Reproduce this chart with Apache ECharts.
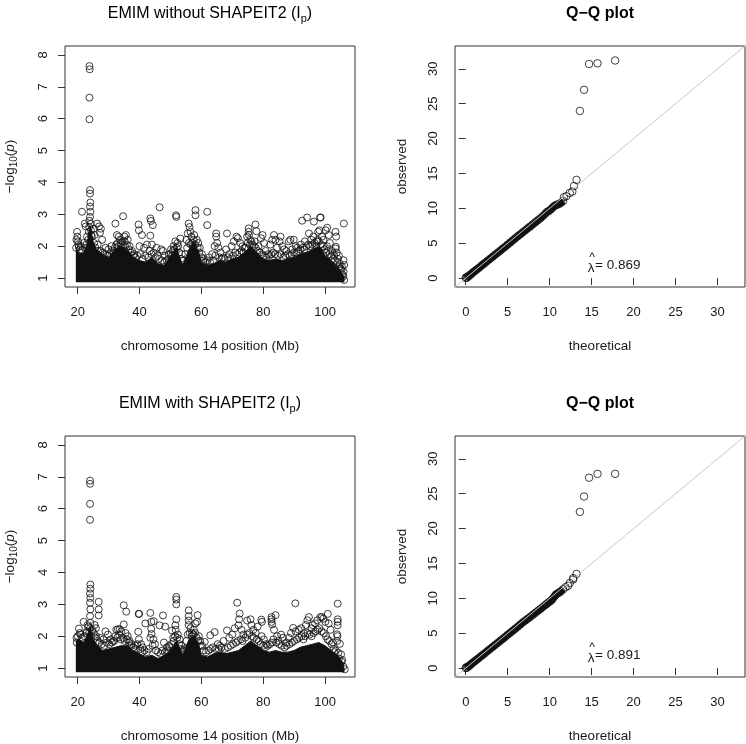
<!DOCTYPE html>
<html><head><meta charset="utf-8">
<script src="https://cdn.jsdelivr.net/npm/echarts@6/dist/echarts.min.js"></script>
<style>html,body{margin:0;padding:0;background:#fff}#c{width:746px;height:744px}</style>
</head><body><div id="c"></div>
<script>
const FONT = '"Liberation Sans", Arial, Helvetica, sans-serif';

// ---------- Manhattan panel 1 (EMIM without SHAPEIT2) ----------
// upper envelope of the dense (solid) cloud of points
const env1X = [19.4,20.5,22,23,24,25,26,28,30,32,34,36,38,40,42,44,46,48,50,52,53,54,56,57.5,59,60,62,64,66,68,70,72,74,76,78,80,82,84,86,88,90,92,94,96,98,99,100,102,104,105.5,106.3];
const env1Y = [1.95,1.75,1.8,2.05,2.65,2.15,1.9,1.75,1.65,1.9,2.0,1.9,1.65,1.55,1.5,1.65,1.45,1.4,1.7,1.95,1.65,1.4,1.9,2.1,1.85,1.5,1.4,1.45,1.55,1.5,1.6,1.65,1.8,2.0,1.8,1.6,1.55,1.6,1.55,1.6,1.65,1.75,1.8,1.9,2.0,1.9,1.7,1.55,1.35,1.15,1.0];
// individual points standing out of the cloud
const man1Pts = [
[23.8,7.65],[23.9,7.55],[23.8,6.66],[23.8,5.98],
[24.0,3.76],[24.0,3.65],[24.1,3.37],[24.0,3.24],[24.1,3.08],[24.0,2.92],[23.8,2.8],[24.2,2.7],[23.7,2.6],[24.3,2.5],[23.6,2.45],[24.4,2.35],
[21.4,3.08],[22.3,2.71],[22.6,2.62],[26.3,2.71],[26.9,2.62],[27.5,2.55],[27.2,2.42],[27.9,2.2],[26.5,2.05],[25.5,2.35],[25.2,2.55],
[19.8,2.45],[19.9,2.3],[19.6,2.2],[20.1,2.15],[19.5,1.95],[20.4,1.98],[21.0,2.0],[22.0,2.1],[23.0,2.3],[22.8,2.05],
[29.0,1.95],[30.0,1.9],[30.9,2.0],[31.6,1.8],[32.2,2.71],[32.7,2.35],[33.3,2.3],[33.7,2.2],[34.7,2.94],[35.1,2.3],[35.6,2.35],[36.2,2.2],[34.2,2.05],[36.8,2.0],[37.6,1.85],[38.3,1.75],[33.0,2.1],[35.2,2.15],
[39.7,2.68],[39.8,2.5],[40.8,2.35],[40.0,2.0],[41.5,1.95],[42.4,2.05],[43.5,2.87],[43.7,2.79],[44.3,2.66],[43.5,2.33],[44.0,2.05],[45.5,1.95],[43.9,1.75],[46.5,3.22],[47.0,1.9],[47.6,1.85],[48.2,1.7],[45.2,1.65],
[49.5,1.75],[50.2,1.9],[51.0,2.0],[51.8,2.97],[51.9,2.92],[51.6,2.15],[52.3,2.1],[53.2,2.24],[52.5,2.0],[53.7,1.75],[50.8,1.85],
[55.2,2.2],[55.9,2.71],[56.2,2.6],[56.5,2.45],[56.8,2.3],[57.1,2.1],[57.5,2.2],[58.1,3.13],[58.1,2.97],[58.5,2.2],[59.0,2.1],[59.5,1.95],[55.6,2.4],[57.7,2.35],[60.2,1.75],[60.8,1.6],
[61.9,3.08],[61.9,2.66],[62.5,1.65],[63.5,1.75],[64.3,2.0],[64.8,2.4],[64.8,2.3],[65.1,2.1],[65.5,1.95],[66.2,1.8],[67.0,1.65],[68.3,2.4],[68.0,1.9],[69.0,1.75],[69.8,2.0],[70.5,2.15],[71.4,2.3],[71.8,2.25],[72.6,2.1],[73.3,2.0],[74.0,1.95],
[74.8,2.3],[75.3,2.56],[75.3,2.45],[75.4,2.35],[75.8,2.2],[76.5,2.05],[77.5,2.68],[77.8,2.47],[77.2,2.15],[78.5,2.0],[79.3,2.25],[79.8,2.35],[80.3,2.1],[80.8,1.85],[81.6,1.75],[82.3,2.05],[82.9,2.2],[83.5,2.35],[84.0,2.2],[84.5,1.95],[85.3,2.15],[85.6,2.3],[86.2,2.0],[86.8,1.9],[87.5,1.85],[88.3,2.15],[88.8,2.2],[89.9,2.2],[89.4,1.9],[90.5,2.0],[91.0,1.95],
[92.6,2.8],[94.2,2.9],[96.4,2.77],[98.4,2.9],[98.6,2.9],[94.8,2.4],[93.5,2.15],[92.2,2.05],[95.5,2.2],[96.2,2.3],[97.3,2.15],[97.8,2.45],[98.2,2.5],[99.0,2.3],[99.5,2.2],[100.2,2.5],[100.7,2.58],[101.2,2.35],[101.6,2.1],[100.6,2.0],[102.3,1.85],[103.0,1.7],[103.4,2.45],[103.6,2.3],[103.5,1.98],[103.4,1.93],[103.8,1.8],[104.2,1.6],[104.8,1.45],[105.3,1.25],[106.1,2.71],[106.0,1.56],[106.2,1.41],[106.0,1.2],[106.2,0.94],[105.5,1.35],[105.9,1.05],[104.5,1.7]
];
// points crowding the upper edge of the cloud
const man1Edge = [
[20.2,2.05],[20.8,1.9],[21.5,1.85],[22.4,1.95],[23.4,2.2],[24.6,2.3],[25.3,2.1],[25.8,1.95],[26.6,1.85],[27.4,1.85],[28.1,1.8],[28.8,1.75],[29.5,1.7],[30.4,1.75],[31.2,1.85],[32.0,1.95],[32.5,2.05],[33.2,2.0],[33.9,2.1],[34.5,2.15],[35.3,2.0],[35.9,2.05],[36.5,1.9],[37.2,1.8],[37.9,1.7],[38.7,1.65],[39.3,1.7],[40.3,1.75],[41.0,1.6],[41.8,1.7],[42.8,1.65],[43.3,1.85],[44.6,1.8],[45.8,1.7],[46.3,1.6],[47.3,1.55],[48.0,1.5],[48.8,1.55],[49.3,1.6],[50.0,1.75],[50.6,1.7],[51.3,1.9],[52.0,1.95],[52.8,1.8],[53.4,1.6],[54.2,1.55],[54.8,1.75],[55.4,1.95],[56.0,2.1],[56.6,2.05],[57.3,2.0],[58.0,2.05],[58.8,1.95],[59.3,1.8],[60.0,1.65],[60.6,1.5],[61.3,1.5],[62.0,1.55],[62.8,1.5],[63.8,1.55],[64.5,1.7],[65.8,1.65],[66.6,1.6],[67.5,1.6],[68.6,1.65],[69.4,1.6],[70.2,1.7],[71.0,1.8],[71.6,1.75],[72.3,1.8],[73.0,1.85],[73.6,1.8],[74.4,1.95],[75.0,2.1],[75.7,2.05],[76.2,2.15],[77.0,2.0],[77.6,1.95],[78.2,1.85],[78.9,1.8],[79.6,1.75],[80.2,1.7],[81.0,1.65],[82.0,1.7],[82.6,1.75],[83.2,1.8],[83.9,1.75],[84.8,1.7],[85.6,1.75],[86.5,1.65],[87.2,1.7],[88.0,1.75],[88.6,1.7],[89.2,1.75],[90.0,1.8],[90.8,1.8],[91.5,1.85],[92.0,1.9],[92.8,1.95],[93.3,1.9],[94.0,2.0],[94.6,2.05],[95.2,2.0],[95.8,2.05],[96.6,2.1],[97.2,2.0],[97.6,2.2],[98.0,2.15],[98.8,2.05],[99.3,2.0],[99.8,1.9],[100.4,1.8],[101.0,1.85],[101.5,1.75],[102.0,1.7],[102.6,1.6],[103.2,1.55],[104.0,1.5],[104.6,1.35],[105.1,1.3],[105.7,1.1]
];

// ---------- Manhattan panel 2 (EMIM with SHAPEIT2) ----------
const env2X = [19.4,20.5,22,23,24,25,26,28,30,32,34,36,38,40,42,44,46,48,50,52,54,56,57.5,59,60,62,64,66,68,70,72,74,76,78,80,82,84,86,88,90,92,94,96,98,99,100,102,104,105.5,106.3];
const env2Y = [1.85,1.9,1.8,2.0,2.3,1.9,1.75,1.55,1.6,1.65,1.7,1.7,1.55,1.45,1.35,1.4,1.3,1.4,1.55,1.85,1.4,1.9,2.0,1.8,1.4,1.35,1.45,1.5,1.45,1.5,1.55,1.7,1.85,1.7,1.55,1.5,1.55,1.5,1.5,1.55,1.65,1.7,1.75,1.8,1.75,1.7,1.55,1.4,1.2,0.95];
const man2Pts = [
[24.0,6.88],[24.0,6.78],[24.0,6.15],[24.0,5.65],
[24.1,3.62],[24.1,3.49],[24.0,3.34],[24.1,3.2],[24.0,3.05],[24.1,2.84],[24.0,2.63],[24.1,2.42],[24.0,2.26],[23.7,2.1],[24.4,2.0],
[26.8,3.08],[26.8,2.84],[26.8,2.65],[21.9,2.45],[20.4,2.24],[19.6,1.95],[19.7,1.8],[20.9,2.05],[22.8,2.1],[23.2,2.35],[25.5,2.35],[25.9,2.25],[26.0,2.0],[27.3,1.95],[28.3,1.9],[29.0,2.15],[29.8,2.05],[30.6,1.9],[31.5,1.85],
[32.5,2.2],[33.0,2.22],[33.6,2.22],[34.1,2.15],[34.9,2.97],[35.7,2.77],[34.9,2.37],[35.5,2.1],[36.2,2.0],[36.8,1.85],[37.5,1.75],[38.5,1.6],
[39.7,2.7],[39.9,2.7],[39.6,2.14],[39.8,1.9],[40.5,1.75],[41.0,1.65],[41.9,2.4],[43.5,2.73],[43.8,2.45],[44.6,2.47],[43.8,2.23],[43.9,2.07],[44.5,1.9],[45.0,1.75],[46.5,2.34],[47.6,2.65],[48.3,2.3],[47.9,1.8],[48.8,1.65],[49.5,1.7],
[50.5,2.18],[50.9,1.95],[51.9,3.23],[51.9,3.15],[51.9,3.0],[51.9,2.53],[51.6,2.34],[51.7,2.2],[52.4,2.05],[53.0,1.9],[53.6,1.7],[54.3,1.55],
[55.9,2.81],[55.9,2.63],[55.9,2.49],[55.9,2.35],[56.5,2.25],[57.0,2.1],[57.6,2.2],[58.8,2.66],[58.6,2.45],[58.1,2.4],[59.2,2.0],[59.6,1.85],[60.3,1.7],
[61.1,1.82],[62.9,2.03],[64.3,2.13],[65.3,1.75],[66.0,1.7],[67.2,1.85],[68.3,2.18],[69.0,1.95],[70.0,2.05],[70.8,2.25],
[71.6,3.05],[72.4,2.71],[72.2,2.53],[72.0,2.34],[73.0,2.2],[73.6,2.05],[74.8,2.49],[75.9,2.53],[76.2,2.35],[76.8,2.2],[77.6,2.1],[78.2,2.3],[79.4,2.52],[79.6,2.45],[79.5,2.0],[80.2,1.9],[81.0,1.75],
[82.7,2.6],[82.7,2.53],[82.7,2.45],[82.9,2.37],[84.0,2.66],[83.5,2.2],[84.5,2.0],[85.0,1.85],[85.8,2.05],[86.4,1.95],[87.5,1.8],[88.3,1.95],[89.0,2.1],
[90.4,3.03],[89.7,2.26],[90.5,2.15],[91.5,2.2],[92.3,2.25],[93.2,2.1],[93.8,2.35],[94.8,2.6],[94.3,2.5],[95.6,2.25],[96.0,2.35],[96.8,2.4],[97.5,2.5],[98.5,2.6],[99.0,2.6],[99.4,2.55],[100.1,2.45],[100.9,2.7],[101.2,2.4],[101.8,2.2],[102.5,1.8],[103.0,1.5],
[104.1,3.02],[104.1,2.53],[104.1,2.45],[104.1,2.34],[103.9,2.06],[104.0,2.0],[103.9,1.85],[104.8,1.76],[104.3,1.48],[105.2,1.43],[105.6,1.25],[106.4,0.96],[105.0,1.1]
];
const man2Edge = [
[20.0,2.0],[20.7,2.1],[21.3,1.95],[22.2,2.0],[23.0,2.15],[23.5,2.3],[24.7,2.2],[25.2,2.1],[25.8,1.95],[26.4,1.85],[27.0,1.8],[27.8,1.75],[28.6,1.7],[29.4,1.8],[30.2,1.75],[31.0,1.8],[31.8,1.85],[32.2,2.0],[32.8,1.95],[33.4,2.05],[34.0,1.9],[34.6,1.95],[35.2,1.85],[35.9,1.9],[36.6,1.8],[37.3,1.7],[38.0,1.65],[38.8,1.7],[39.3,1.75],[40.2,1.6],[40.9,1.5],[41.6,1.55],[42.4,1.5],[43.0,1.6],[43.5,1.95],[44.2,1.7],[45.3,1.55],[46.0,1.5],[46.8,1.45],[47.4,1.55],[48.2,1.5],[49.0,1.55],[49.8,1.65],[50.3,1.75],[51.0,1.85],[51.5,2.0],[52.2,1.95],[52.8,1.75],[53.3,1.6],[54.0,1.5],[54.6,1.6],[55.2,1.85],[55.6,2.05],[56.2,2.1],[56.9,2.0],[57.4,2.05],[58.0,2.1],[58.5,1.95],[59.0,1.85],[59.8,1.7],[60.7,1.55],[61.5,1.5],[62.3,1.55],[63.0,1.6],[63.7,1.65],[64.6,1.6],[65.6,1.6],[66.5,1.65],[67.6,1.6],[68.6,1.65],[69.5,1.7],[70.3,1.75],[71.2,1.8],[71.8,1.85],[72.8,1.9],[73.3,1.85],[74.2,1.95],[74.9,2.05],[75.5,2.1],[76.4,2.0],[77.0,1.95],[77.9,1.9],[78.6,1.85],[79.2,1.75],[80.0,1.7],[80.6,1.65],[81.5,1.7],[82.2,1.75],[82.8,1.8],[83.3,1.9],[84.2,1.8],[85.2,1.75],[86.0,1.7],[86.9,1.65],[87.6,1.7],[88.5,1.75],[89.3,1.8],[90.0,1.85],[90.9,1.9],[91.6,1.95],[92.4,2.0],[93.0,1.9],[93.6,2.0],[94.4,2.1],[95.0,2.05],[95.7,2.0],[96.3,2.1],[97.0,2.15],[97.6,2.2],[98.2,2.25],[98.9,2.15],[99.6,2.1],[100.3,2.0],[100.8,1.9],[101.4,1.85],[102.1,1.75],[102.8,1.6],[103.5,1.55],[104.5,1.3],[105.3,1.2],[105.9,1.05]
];

// ---------- Q-Q panels: [theoretical, observed] ----------
const qq1Pts = [
[0.00,0.00],[0.05,0.10],[0.15,0.05],[0.25,0.25],[0.40,0.30],[0.55,0.50],[0.70,0.62],[0.90,0.85],[1.10,1.02],[1.30,1.22],[1.55,1.45],[1.80,1.70],[2.05,1.95],[2.30,2.18],[2.60,2.48],[2.90,2.76],[3.20,3.05],[3.50,3.35],[3.80,3.63],[4.10,3.92],[4.40,4.22],[4.70,4.50],[5.00,4.80],[5.30,5.10],[5.60,5.40],[5.90,5.70],[6.20,6.00],[6.50,6.28],[6.80,6.58],[7.10,6.85],[7.40,7.15],[7.70,7.42],[8.00,7.72],[8.30,8.00],[8.60,8.30],[8.90,8.58],[9.20,8.90],[9.50,9.25],[9.70,9.50],[9.90,9.62],[10.15,9.85],[10.35,10.10],[10.55,10.35],[10.75,10.45],[10.95,10.55],[11.15,10.65],[11.35,10.80],[11.60,11.05],
[11.7,11.6],[12.0,11.75],[12.4,12.2],[12.7,12.4],[12.9,13.2],[13.2,14.08],
[13.6,23.97],[14.1,27.0],[14.7,30.7],[15.7,30.8],[17.8,31.2]
];
const qq1Dense = 48; // first points form the dense band
const qq2Pts = [
[0.00,0.00],[0.05,0.10],[0.15,0.05],[0.25,0.22],[0.40,0.30],[0.55,0.48],[0.70,0.62],[0.90,0.83],[1.10,1.00],[1.30,1.20],[1.55,1.43],[1.80,1.68],[2.05,1.92],[2.30,2.16],[2.60,2.45],[2.90,2.74],[3.20,3.03],[3.50,3.32],[3.80,3.60],[4.10,3.90],[4.40,4.18],[4.70,4.47],[5.00,4.77],[5.30,5.06],[5.60,5.35],[5.90,5.64],[6.20,5.93],[6.50,6.25],[6.80,6.55],[7.10,6.82],[7.40,7.08],[7.70,7.36],[8.00,7.64],[8.30,7.92],[8.60,8.20],[8.90,8.48],[9.20,8.78],[9.50,9.05],[9.70,9.25],[9.90,9.45],[10.15,9.65],[10.35,9.90],[10.55,10.25],[10.75,10.55],[10.95,10.70],[11.15,10.85],[11.35,11.00],[11.60,11.30],
[11.9,11.6],[12.2,11.8],[12.4,12.2],[12.8,12.7],[12.8,12.9],[13.2,13.5],
[13.6,22.4],[14.1,24.6],[14.7,27.3],[15.7,27.85],[17.8,27.85]
];
const qq2Dense = 48;

// ---------- axes ----------
const manXTicks = [20,40,60,80,100];
const manYTicks = [1,2,3,4,5,6,7,8];
const manXRange = [15.9,109.7];
const manYRange = [0.72,8.28];
const qqTicks = [0,5,10,15,20,25,30];
const qqRange = [-1.28,33.28];
const cloudBase = 0.87;
const lambdas = ['0.869','0.891'];

const grids = [
  {left:65, top:46, width:290, height:241},
  {left:455, top:46, width:290, height:241},
  {left:65, top:436, width:290, height:241},
  {left:455, top:436, width:290, height:241}
];

const txt = {color:'#1a1a1a', fontFamily:FONT};
function xAx(gi, range, ticks, name) {
  return {gridIndex:gi, type:'value', min:range[0], max:range[1],
    axisLine:{show:false}, splitLine:{show:false},
    axisTick:{show:true, customValues:ticks, length:7, lineStyle:{color:'#333', width:1}},
    axisLabel:{customValues:ticks, margin:19, fontSize:13, ...txt},
    name:name, nameLocation:'middle', nameGap:52,
    nameTextStyle:{fontSize:13.5, ...txt}};
}
function yAx(gi, range, ticks, name, rich) {
  return {gridIndex:gi, type:'value', min:range[0], max:range[1],
    axisLine:{show:false}, splitLine:{show:false},
    axisTick:{show:true, customValues:ticks, length:7, lineStyle:{color:'#333', width:1}},
    axisLabel:{customValues:ticks, margin:15, rotate:90, fontSize:13, ...txt},
    name:name, nameLocation:'middle', nameGap:46, nameRotate:90,
    nameTextStyle:{fontSize:13.5, ...txt, rich:rich}};
}
const logRich = {
  n:{fontSize:13.5, lineHeight:17, fontFamily:FONT, color:'#1a1a1a'},
  s:{fontSize:10, lineHeight:9, verticalAlign:'bottom', fontFamily:FONT, color:'#1a1a1a'},
  i:{fontSize:13.5, lineHeight:17, fontStyle:'italic', fontFamily:FONT, color:'#1a1a1a'}
};
const logName = '{n|\u2212log}{s|10}{n|(}{i|p}{n|)}';

const circle = {color:'rgba(0,0,0,0)', borderColor:'#111', borderWidth:1};

function manSeries(gi, envX, envY, edge, pts) {
  return [
    {type:'line', xAxisIndex:gi, yAxisIndex:gi, data:envX.map((x,i)=>[x,envY[i]]),
     symbol:'none', silent:true, lineStyle:{color:'#111', width:1},
     areaStyle:{color:'#111', opacity:1, origin:cloudBase}},
    {type:'scatter', xAxisIndex:gi, yAxisIndex:gi, data:edge.concat(pts), symbol:'circle',
     symbolSize:7, silent:true, itemStyle:circle}
  ];
}
function qqSeries(gi, pts, nDense) {
  return [
    {type:'line', xAxisIndex:gi, yAxisIndex:gi, data:pts.slice(0,nDense),
     symbol:'none', silent:true, lineStyle:{color:'#111', width:7}},
    {type:'scatter', xAxisIndex:gi, yAxisIndex:gi, data:pts, symbol:'circle',
     symbolSize:7.5, silent:true, itemStyle:circle},
    {type:'line', xAxisIndex:gi, yAxisIndex:gi, z:5,
     data:[[qqRange[0],qqRange[0]],[qqRange[1],qqRange[1]]],
     symbol:'none', silent:true, lineStyle:{color:'#c8c8c8', width:1}}
  ];
}

const titleRich = {
  n:{fontSize:16, lineHeight:20, fontFamily:FONT, color:'#1a1a1a'},
  s:{fontSize:11, lineHeight:11, verticalAlign:'bottom', fontFamily:FONT, color:'#1a1a1a'},
  b:{fontSize:16, lineHeight:20, fontWeight:'bold', fontFamily:FONT, color:'#1a1a1a'}
};
function titleText(g, text) {
  return {type:'text', x:g.left + g.width/2, y:g.top - 32, z:10,
    style:{text:text, rich:titleRich, align:'center', verticalAlign:'middle'}};
}
function lambdaText(g, val) {
  const bx = g.left + 136, by = g.top + g.height - 22;
  return [
    {type:'text', x:bx+1, y:by-7, z:10, style:{text:'^', font:'12px '+FONT, fill:'#1a1a1a', align:'center', verticalAlign:'middle'}},
    {type:'text', x:bx, y:by+3, z:10, style:{text:'\u03bb', font:'13.5px '+FONT, fill:'#1a1a1a', align:'center', verticalAlign:'middle'}},
    {type:'text', x:bx+4, y:by, z:10, style:{text:'= '+val, font:'13.5px '+FONT, fill:'#1a1a1a', align:'left', verticalAlign:'middle'}}
  ];
}

const option = {
  backgroundColor:'#fff',
  animation:false,
  grid: grids.map(g => ({...g, show:true, borderColor:'#333', borderWidth:1, backgroundColor:'transparent', containLabel:false})),
  xAxis:[
    xAx(0, manXRange, manXTicks, 'chromosome 14 position (Mb)'),
    xAx(1, qqRange, qqTicks, 'theoretical'),
    xAx(2, manXRange, manXTicks, 'chromosome 14 position (Mb)'),
    xAx(3, qqRange, qqTicks, 'theoretical')
  ],
  yAxis:[
    yAx(0, manYRange, manYTicks, logName, logRich),
    yAx(1, qqRange, qqTicks, 'observed', logRich),
    yAx(2, manYRange, manYTicks, logName, logRich),
    yAx(3, qqRange, qqTicks, 'observed', logRich)
  ],
  series:[
    ...manSeries(0, env1X, env1Y, man1Edge, man1Pts),
    ...qqSeries(1, qq1Pts, qq1Dense),
    ...manSeries(2, env2X, env2Y, man2Edge, man2Pts),
    ...qqSeries(3, qq2Pts, qq2Dense)
  ],
  graphic:[
    titleText(grids[0], '{n|EMIM without SHAPEIT2 (I}{s|p}{n|)}'),
    titleText(grids[1], '{b|Q\u2212Q plot}'),
    titleText(grids[2], '{n|EMIM with SHAPEIT2 (I}{s|p}{n|)}'),
    titleText(grids[3], '{b|Q\u2212Q plot}'),
    ...lambdaText(grids[1], lambdas[0]),
    ...lambdaText(grids[3], lambdas[1])
  ]
};
const chart = echarts.init(document.getElementById('c'), null, {renderer:'canvas'});
chart.setOption(option);
</script></body></html>
